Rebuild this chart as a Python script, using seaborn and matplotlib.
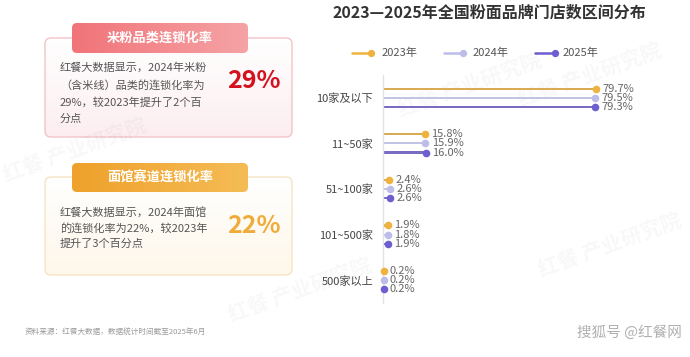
import numpy as np
import pandas as pd
import matplotlib
matplotlib.use("Agg")
import matplotlib.pyplot as plt
import seaborn as sns
from matplotlib.patches import FancyBboxPatch
from matplotlib.lines import Line2D
from matplotlib.colors import LinearSegmentedColormap

# ---------------- data ----------------
categories = ['10家及以下', '11~50家', '51~100家', '101~500家', '500家以上']
years = ['2023年', '2024年', '2025年']
v2023 = [79.7, 15.8, 2.4, 1.9, 0.2]
v2024 = [79.5, 15.9, 2.6, 1.8, 0.2]
v2025 = [79.3, 16.0, 2.6, 1.9, 0.2]

title = '2023—2025年全国粉面品牌门店数区间分布'
card1_title = '米粉品类连锁化率'
card1_lines = ['红餐大数据显示，2024年米粉', '（含米线）品类的连锁化率为', '29%，较2023年提升了2个百', '分点']
card1_value = '29%'
card2_title = '面馆赛道连锁化率'
card2_lines = ['红餐大数据显示，2024年面馆', '的连锁化率为22%，较2023年', '提升了3个百分点']
card2_value = '22%'
source = '资料来源：红餐大数据，数据统计时间截至2025年6月'
brand = '搜狐号 @红餐网'

colors = ['#F0B23F', '#BDBDEA', '#6D5FD0']

# ---------------- style ----------------
sns.set_theme(style='white')
plt.rcParams['font.family'] = ['Noto Sans CJK SC', 'DejaVu Sans']

W, H = 690, 357
fig = plt.figure(figsize=(W / 100, H / 100), dpi=100)
fig.patch.set_facecolor('white')

# overlay axes in pixel coordinates for decorations
bg = fig.add_axes([0, 0, 1, 1], zorder=0)
bg.set_xlim(0, W)
bg.set_ylim(H, 0)
bg.axis('off')

# faint watermarks
for (wx, wy) in [(75, 150), (300, 290), (470, 85), (590, 75), (610, 245)]:
    bg.text(wx, wy, '红餐 产业研究院', fontsize=15, color='#000000', alpha=0.03,
            rotation=20, ha='center', va='center', fontweight='bold')


def card(y0, y1, ty0, ty1, border, grad_end, tab_l, tab_r, head, lines, value, vcolor,
         line_h, text_y0, value_y):
    box = FancyBboxPatch((45, y0), 247, y1 - y0, boxstyle='round,pad=0,rounding_size=6',
                         facecolor='none', edgecolor=border, lw=1.0, zorder=2)
    bg.add_patch(box)
    grad = np.linspace(0, 1, 100).reshape(-1, 1)
    cm = LinearSegmentedColormap.from_list('g', ['#FFFFFF', grad_end])
    im = bg.imshow(grad, cmap=cm, extent=(45, 292, y1, y0), aspect='auto', zorder=1)
    clip = FancyBboxPatch((45, y0), 247, y1 - y0, boxstyle='round,pad=0,rounding_size=6',
                          transform=bg.transData, facecolor='none', edgecolor='none')
    im.set_clip_path(clip)
    cm2 = LinearSegmentedColormap.from_list('t', [tab_l, tab_r])
    gradx = np.linspace(0, 1, 100).reshape(1, -1)
    tab = FancyBboxPatch((72, ty0), 176, ty1 - ty0, boxstyle='round,pad=0,rounding_size=5',
                         facecolor='none', edgecolor='none', transform=bg.transData)
    im2 = bg.imshow(gradx, cmap=cm2, extent=(72, 248, ty1, ty0), aspect='auto', zorder=3)
    im2.set_clip_path(tab)
    bg.text(160, (ty0 + ty1) / 2, head, color='white', fontsize=9.5, fontweight='bold',
            ha='center', va='center', zorder=4)
    for i, ln in enumerate(lines):
        bg.text(60, text_y0 + i * line_h, ln, fontsize=8, color='#555555', ha='left',
                va='center', zorder=4)
    bg.text(254, value_y, value, fontsize=18, fontweight='bold', color=vcolor,
            ha='center', va='center', zorder=4)
    bg.set_xlim(0, W)
    bg.set_ylim(H, 0)


card(38, 137, 23, 53, '#F3C4CA', '#FCEEF0', '#F17479', '#F5A3A5', card1_title, card1_lines,
     card1_value, '#D4121F', 17, 68, 81)
card(177, 275, 163, 192, '#F5E4C4', '#FEF7EA', '#EFA12C', '#F5BC55', card2_title, card2_lines,
     card2_value, '#F0AC3A', 16, 212, 226)

bg.text(25, 333, source, fontsize=5.5, color='#9A9A9A', ha='left', va='center')
bg.text(682, 333, brand, fontsize=10.5, color='#B0B0B0', ha='right', va='center', style='italic')

# title
bg.text(489, 13, title, fontsize=11.5, fontweight='bold', color='#333333', ha='center', va='center')

# legend (manual: line with dot at end)
for (x0, x1, tx), lab, c in zip([(352, 371, 382), (444, 463, 473), (535, 555, 563)], years, colors):
    bg.add_line(Line2D([x0, x1], [53, 53], color=c, lw=1.8))
    bg.scatter([x1], [53], s=18, color=c, zorder=5)
    bg.text(tx, 53, lab, fontsize=8, color='#555555', ha='left', va='center')

# ---------------- main chart ----------------
df = pd.DataFrame({
    'cat': categories * 3,
    'year': [years[0]] * 5 + [years[1]] * 5 + [years[2]] * 5,
    'val': v2023 + v2024 + v2025,
})

ax = fig.add_axes([383 / W, 1 - 303 / H, 267 / W, 228 / H], zorder=1)
ax.patch.set_alpha(0)
sns.barplot(data=df, y='cat', x='val', hue='year', palette=colors, orient='h',
            width=0.6, ax=ax, legend=False, order=categories, hue_order=years)

thick = 0.045
for ci, cont in enumerate(ax.containers):
    for p in cont.patches:
        cy = p.get_y() + p.get_height() / 2
        p.set_height(thick)
        p.set_y(cy - thick / 2)
        p.set_edgecolor('none')
        xv = p.get_width()
        ax.scatter([xv], [cy], s=20, color=colors[ci], zorder=5, clip_on=False)
        ax.annotate(f'{xv:.1f}%', (xv, cy), xytext=(4.5, 0), textcoords='offset points',
                    fontsize=8, color='#666666', ha='left', va='center')

ax.set_xlim(0, 100)
ax.set_ylim(4.5, -0.5)
ax.set_xlabel('')
ax.set_ylabel('')
ax.set_xticks([])
ax.tick_params(axis='y', length=0, pad=7, labelsize=8, labelcolor='#444444')
for s in ['top', 'right', 'bottom']:
    ax.spines[s].set_visible(False)
ax.spines['left'].set_color('#E2E2E2')
ax.spines['left'].set_linewidth(1)

fig.savefig('out.png', dpi=100, facecolor='white')
